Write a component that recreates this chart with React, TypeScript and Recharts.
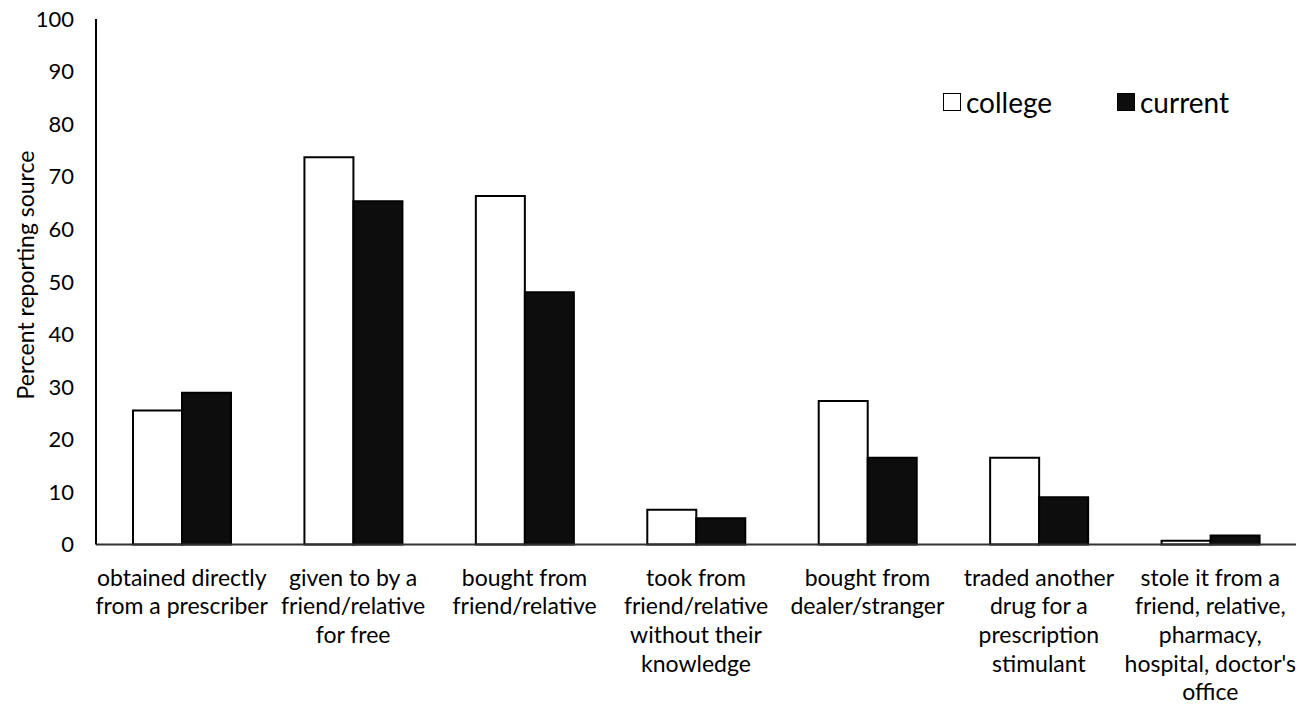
import { BarChart, Bar, XAxis, YAxis, Legend, Label } from 'recharts';

const FONT = 'Lato, "Noto Sans", sans-serif';

// source categories (line breaks where the axis label wraps)
const categories = [
  'obtained directly\nfrom a prescriber',
  'given to by a\nfriend/relative\nfor free',
  'bought from\nfriend/relative',
  'took from\nfriend/relative\nwithout their\nknowledge',
  'bought from\ndealer/stranger',
  'traded another\ndrug for a\nprescription\nstimulant',
  "stole it from a\nfriend, relative,\npharmacy,\nhospital, doctor's\noffice",
];

const collegeValues = [25.5, 73.7, 66.3, 6.6, 27.3, 16.5, 0.7];
const currentValues = [28.9, 65.3, 48.0, 5.0, 16.5, 9.0, 1.7];

const yTicks = [0, 10, 20, 30, 40, 50, 60, 70, 80, 90, 100];

const data = categories.map((name, i) => ({
  name,
  college: collegeValues[i],
  current: currentValues[i],
}));

function CategoryTick({ x, y, payload }: any) {
  const lines = String(payload.value).split('\n');
  return (
    <text x={x} y={y} textAnchor="middle" fill="#000" fontFamily={FONT} fontSize={23}>
      {lines.map((line, i) => (
        <tspan key={i} x={x} dy={i === 0 ? 41 : 28.7}>
          {line}
        </tspan>
      ))}
    </text>
  );
}

function LegendContent({ payload }: any) {
  return (
    <div style={{ position: 'relative', width: 320, height: 36, fontFamily: FONT, fontSize: 28, color: '#000' }}>
      {(payload || []).map((entry: any, i: number) => (
        <div
          key={entry.value}
          style={{ position: 'absolute', left: i * 174, top: 0, display: 'flex', alignItems: 'center', height: 36 }}
        >
          <span
            style={{
              display: 'inline-block',
              width: 18,
              height: 18,
              boxSizing: 'border-box',
              border: '1.5px solid #000',
              background: entry.payload?.fill ?? entry.color,
              marginRight: 5,
            }}
          />
          <span>{entry.value}</span>
        </div>
      ))}
    </div>
  );
}

export default function App() {
  return (
    <div style={{ position: 'absolute', left: 0, top: 0, width: 1312, height: 709, background: '#fff' }}>
      <BarChart
        width={1312}
        height={709}
        data={data}
        margin={{ top: 19, right: 16, bottom: 0, left: 0 }}
        barCategoryGap={37}
        barGap={0}
      >
        <XAxis
          dataKey="name"
          height={164.5}
          interval={0}
          tickLine={false}
          tickSize={0}
          tickMargin={0}
          axisLine={{ stroke: '#333', strokeWidth: 2 }}
          tick={<CategoryTick />}
        />
        <YAxis
          width={96}
          domain={[0, 100]}
          ticks={yTicks}
          interval={0}
          tickLine={false}
          tickSize={0}
          tickMargin={22}
          axisLine={{ stroke: '#000', strokeWidth: 2 }}
          tick={{ fill: '#000', fontSize: 22, fontFamily: FONT }}
        >
          <Label
            content={() => (
              <text
                x={25}
                y={275}
                transform="rotate(-90 25 275)"
                textAnchor="middle"
                dominantBaseline="central"
                fill="#000"
                fontFamily={FONT}
                fontSize={23}
              >
                Percent reporting source
              </text>
            )}
          />
        </YAxis>
        <Legend
          layout="horizontal"
          verticalAlign="middle"
          align="center"
          content={<LegendContent />}
          wrapperStyle={{ position: 'absolute', left: 943, top: 84, width: 320, height: 36 }}
        />
        <Bar dataKey="college" name="college" fill="#fff" stroke="#000" strokeWidth={2} isAnimationActive={false} />
        <Bar dataKey="current" name="current" fill="#0d0d0d" stroke="#000" strokeWidth={2} isAnimationActive={false} />
      </BarChart>
    </div>
  );
}
